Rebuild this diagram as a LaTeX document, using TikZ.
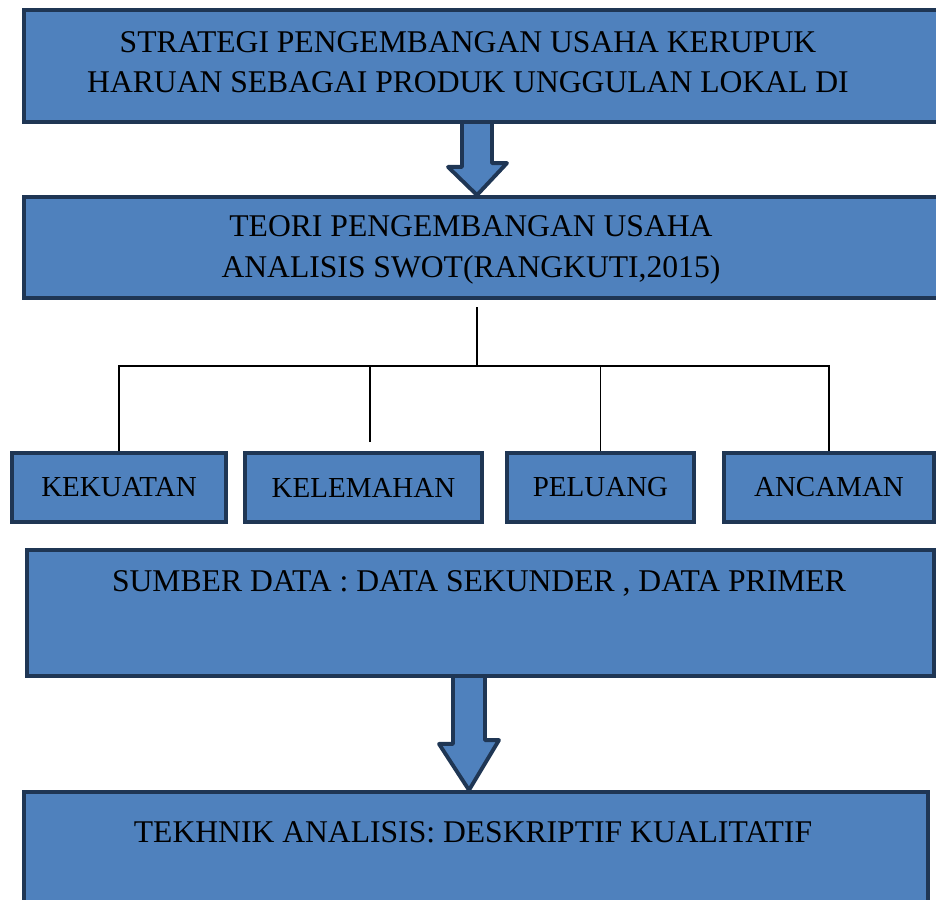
\documentclass[tikz,border=0pt]{standalone}
\usepackage{fontspec}
\setmainfont{Liberation Serif}
\usetikzlibrary{positioning}
\usetikzlibrary{backgrounds}
\definecolor{boxblue}{HTML}{4F81BD}
\definecolor{boxedge}{HTML}{1F3654}
\tikzset{bigbox/.style = {draw = boxedge, fill = boxblue, line width = 2.2pt, rectangle, inner sep = 0}}
\tikzset{smallbox/.style = {bigbox, minimum height = 1.38cm, font = \fontsize{16.5}{19}\selectfont}}
\tikzset{boxtext/.style = {inner sep = 0, align = center, font = \fontsize{18}{23}\selectfont}}
\tikzset{fatarrow/.style = {draw = boxedge, fill = boxblue, line width = 2.2pt, line join = round}}
\tikzset{branch/.style = {line width = 0.85pt}}

\begin{document}
\begin{tikzpicture}[x = 0.02cm, y = -0.02cm]
    \useasboundingbox (0, 0) rectangle (936, 899);
    \clip (0, 0) rectangle (936, 899);

    % boxes
    \node [bigbox, minimum width = 18.72cm, minimum height = 2.24cm] (strat) at (492, 66) {};
    \node [boxtext] (strattext) at (468, 62) {STRATEGI PENGEMBANGAN USAHA KERUPUK\\HARUAN SEBAGAI PRODUK UNGGULAN LOKAL DI};

    \node [bigbox, minimum width = 18.72cm, minimum height = 2.02cm] (teori) at (492, 247.5) {};
    \node [boxtext] (teoritext) at (471, 250) {TEORI PENGEMBANGAN USAHA\\ANALISIS SWOT(RANGKUTI,2015)};

    \node [smallbox, minimum width = 4.28cm] (kekuatan) at (119, 487.5) {KEKUATAN};
    \node [smallbox, minimum width = 4.74cm] (kelemahan) at (363.5, 487.5) {KELEMAHAN};
    \node [smallbox, minimum width = 3.74cm] (peluang) at (600.5, 487.5) {PELUANG};
    \node [smallbox, minimum width = 4.2cm] (ancaman) at (829, 487.5) {ANCAMAN};

    \node [bigbox, minimum width = 18.14cm, minimum height = 2.52cm] (sumber) at (480.5, 613) {};
    \node [boxtext] (sumbertext) at (479, 583) {SUMBER DATA : DATA SEKUNDER , DATA PRIMER};

    \node [bigbox, minimum width = 18.08cm, minimum height = 4.16cm] (teknik) at (476, 896) {};
    \node [boxtext] (tekniktext) at (473, 832) {TEKHNIK ANALISIS: DESKRIPTIF KUALITATIF};

    % tree
    \coordinate (trunk) at (477, 307);
    \coordinate (hub) at (477, 366);
    \draw [branch] (trunk) -- (hub);
    \draw [branch] (kekuatan.north) -- (kekuatan.north |- hub) -- (ancaman.north |- hub) -- (ancaman.north);
    \draw [branch] ([xshift = 0.13cm, yshift = 0.18cm] kelemahan.north) -- ([xshift = 0.13cm] kelemahan.north |- hub);
    \draw [branch] (peluang.north) -- (peluang.north |- hub);

    % block arrows
    \coordinate (axone) at (477, 0);
    \coordinate (axtwo) at (469, 0);
    \begin{scope}[on background layer]
      \filldraw [fatarrow] (strat.south -| axone) ++(-15, 0) -- ++(0, 43) -- ++(-14, 0) -- (teori.north -| axone) -- ++(30, -32) -- ++(-15, 0) -- ++(0, -43);
      \filldraw [fatarrow] (sumber.south -| axtwo) ++(-16, 0) -- ++(0, 66) -- ++(-14, 0) -- (teknik.north -| axtwo) -- ++(30, -50) -- ++(-14, 0) -- ++(0, -66);
    \end{scope}
  \end{tikzpicture}
\end{document}
